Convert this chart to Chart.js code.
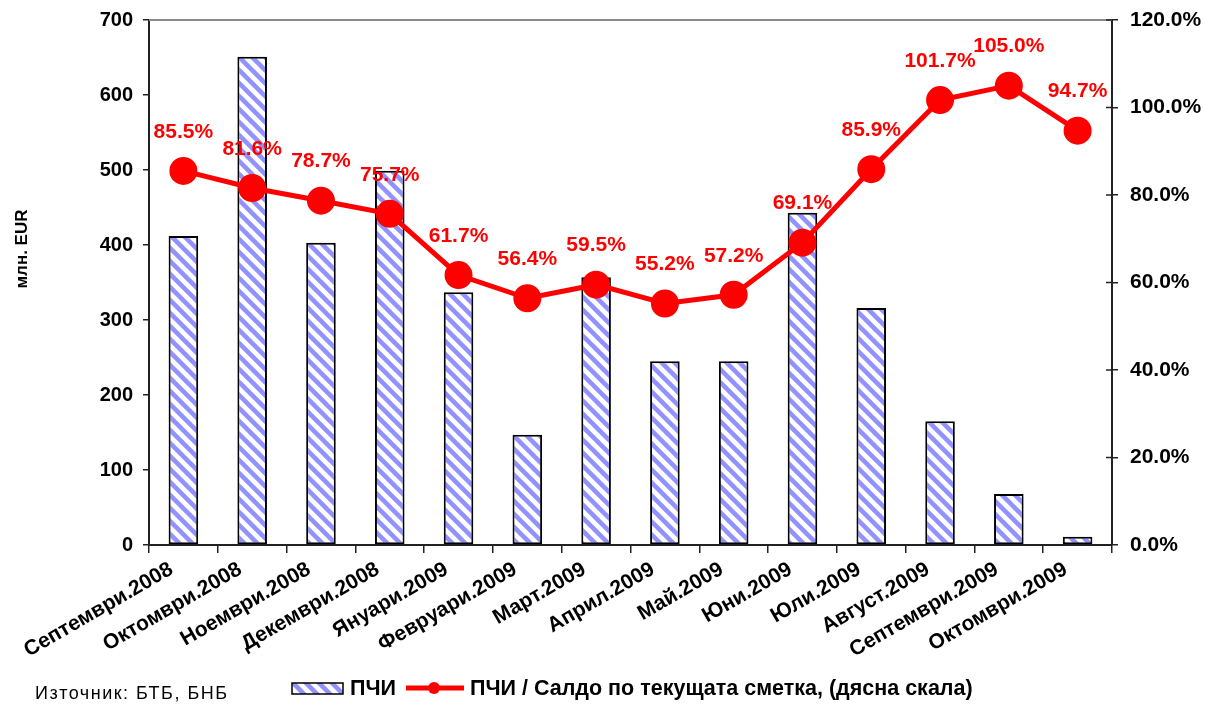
<!DOCTYPE html>
<html>
<head>
<meta charset="utf-8">
<script src="https://cdn.jsdelivr.net/npm/chart.js@4"></script>
<style>
  html, body { margin: 0; padding: 0; background: #fff; }
  #wrap { position: relative; width: 1205px; height: 704px; }
</style>
</head>
<body>
<div id="wrap"><canvas id="fdiChart"></canvas></div>
<script>
// Data
const months = ['Септември.2008', 'Октомври.2008', 'Ноември.2008', 'Декември.2008', 'Януари.2009',
    'Февруари.2009', 'Март.2009', 'Април.2009', 'Май.2009', 'Юни.2009', 'Юли.2009',
    'Август.2009', 'Септември.2009', 'Октомври.2009'];
const fdiValues = [412, 651, 403, 499, 337, 147, 357, 245, 245, 443, 316, 165, 68, 11];
const fdiToCurrentAccount = [85.5, 81.6, 78.7, 75.7, 61.7, 56.4, 59.5, 55.2, 57.2, 69.1, 85.9, 101.7, 105.0, 94.7];
const leftTicks = [0, 100, 200, 300, 400, 500, 600, 700];
const rightTicks = [0, 20, 40, 60, 80, 100, 120];

const barLabel = 'ПЧИ';
const lineLabel = 'ПЧИ / Салдо по текущата сметка, (дясна скала)';
const sourceText = 'Източник: БТБ, БНБ';
const leftTitle = 'млн. EUR';

const FONT = '"Liberation Sans", Arial, sans-serif';

// Hatched fill for bars
function makeHatch() {
    const size = 13;
    const c = document.createElement('canvas');
    c.width = size; c.height = size;
    const g = c.getContext('2d');
    g.fillStyle = '#ffffff';
    g.fillRect(0, 0, size, size);
    g.strokeStyle = '#9191ff';
    g.lineWidth = 4.5;
    g.beginPath();
    g.moveTo(-3, -3); g.lineTo(size + 3, size + 3);
    g.moveTo(-3, size - 3); g.lineTo(3, size + 3);
    g.moveTo(size - 3, -3); g.lineTo(size + 3, 3);
    g.stroke();
    return g.createPattern(c, 'repeat');
}
const hatch = makeHatch();

// Labels above line points, top border, right ticks, axis title, legend, source
const extrasPlugin = {
    id: 'extras',
    afterDatasetsDraw(chart) {
        const ctx = chart.ctx;
        const meta = chart.getDatasetMeta(1);
        ctx.save();
        ctx.fillStyle = '#ff0000';
        ctx.font = 'bold 21px ' + FONT;
        ctx.textAlign = 'center';
        ctx.textBaseline = 'middle';
        meta.data.forEach((pt, i) => {
            ctx.fillText(fdiToCurrentAccount[i].toFixed(1) + '%', pt.x, pt.y - 39);
        });
        ctx.restore();
    },
    afterDraw(chart) {
        const ctx = chart.ctx;
        const area = chart.chartArea;
        ctx.save();
        // top border
        ctx.strokeStyle = '#8a8a8a';
        ctx.lineWidth = 2;
        ctx.beginPath();
        ctx.moveTo(area.left, area.top);
        ctx.lineTo(area.right, area.top);
        ctx.stroke();

        // inner ticks on right axis
        const y1 = chart.scales.y1;
        ctx.strokeStyle = '#222';
        ctx.lineWidth = 1.5;
        rightTicks.forEach(v => {
            const y = y1.getPixelForValue(v);
            ctx.beginPath();
            ctx.moveTo(area.right - 6, y);
            ctx.lineTo(area.right, y);
            ctx.stroke();
        });

        // left axis title
        ctx.save();
        ctx.translate(22, 249);
        ctx.rotate(-Math.PI / 2);
        ctx.fillStyle = '#000';
        ctx.font = 'bold 17px ' + FONT;
        ctx.textAlign = 'center';
        ctx.textBaseline = 'middle';
        ctx.fillText(leftTitle, 0, 0);
        ctx.restore();

        // legend
        const ly = 688;
        ctx.fillStyle = hatch;
        ctx.fillRect(292, ly - 5, 51, 11);
        ctx.strokeStyle = '#000';
        ctx.lineWidth = 1.5;
        ctx.strokeRect(292, ly - 5, 51, 11);

        ctx.fillStyle = '#000';
        ctx.font = 'bold 21.5px ' + FONT;
        ctx.textBaseline = 'middle';
        ctx.textAlign = 'left';
        ctx.fillText(barLabel, 350, ly + 1);

        ctx.strokeStyle = '#ff0000';
        ctx.lineWidth = 5;
        ctx.beginPath();
        ctx.moveTo(406, ly);
        ctx.lineTo(464, ly);
        ctx.stroke();
        ctx.fillStyle = '#ff0000';
        ctx.beginPath();
        ctx.arc(434, ly, 6, 0, Math.PI * 2);
        ctx.fill();

        ctx.fillStyle = '#000';
        ctx.fillText(lineLabel, 470, ly + 1);

        // source note
        ctx.font = '18px ' + FONT;
        if ('letterSpacing' in ctx) ctx.letterSpacing = '1.5px';
        ctx.fillText(sourceText, 35, ly + 6);
        ctx.restore();
    }
};

const ctx = document.getElementById('fdiChart').getContext('2d');
new Chart(ctx, {
    type: 'bar',
    data: {
        labels: months,
        datasets: [{
            type: 'bar',
            label: barLabel,
            data: fdiValues,
            yAxisID: 'y',
            backgroundColor: hatch,
            borderColor: '#000',
            borderWidth: 2,
            borderSkipped: false,
            categoryPercentage: 1,
            barPercentage: 0.43,
            order: 1
        }, {
            type: 'line',
            label: lineLabel,
            data: fdiToCurrentAccount,
            yAxisID: 'y1',
            borderColor: '#ff0000',
            backgroundColor: '#ff0000',
            borderWidth: 5,
            pointRadius: 11.5,
            pointBackgroundColor: '#ff0000',
            pointBorderColor: '#ff0000',
            tension: 0,
            fill: false,
            order: 0
        }]
    },
    options: {
        responsive: true,
        maintainAspectRatio: false,
        animation: false,
        layout: { padding: { top: 20, left: 0, right: 0, bottom: 0 } },
        plugins: {
            legend: { display: false },
            tooltip: { enabled: false }
        },
        scales: {
            x: {
                offset: true,
                grid: { offset: true, drawOnChartArea: false, drawTicks: true, tickLength: 8, color: '#222', lineWidth: 1.5 },
                border: { display: true, color: '#222', width: 2 },
                ticks: {
                    autoSkip: false,
                    maxRotation: 30,
                    minRotation: 30,
                    padding: 4,
                    labelOffset: -12,
                    color: '#000',
                    font: { family: FONT, size: 21, weight: 'bold' }
                },
                afterFit: (scale) => { scale.height = 159; }
            },
            y: {
                position: 'left',
                min: 0,
                max: 700,
                afterBuildTicks: (scale) => { scale.ticks = leftTicks.map(v => ({ value: v })); },
                grid: { drawOnChartArea: false, drawTicks: true, tickLength: 6, color: '#222', lineWidth: 1.5 },
                border: { display: true, color: '#222', width: 2 },
                ticks: {
                    padding: 10,
                    color: '#000',
                    font: { family: FONT, size: 20, weight: 'bold' }
                },
                afterFit: (scale) => { scale.width = 149; scale.paddingTop = 0; scale.paddingBottom = 0; }
            },
            y1: {
                position: 'right',
                min: 0,
                max: 120,
                afterBuildTicks: (scale) => { scale.ticks = rightTicks.map(v => ({ value: v })); },
                grid: { drawOnChartArea: false, drawTicks: true, tickLength: 6, color: '#222', lineWidth: 1.5 },
                border: { display: true, color: '#222', width: 2 },
                ticks: {
                    padding: 12,
                    color: '#000',
                    font: { family: FONT, size: 21, weight: 'bold' },
                    callback: (v) => v.toFixed(1) + '%'
                },
                afterFit: (scale) => { scale.width = 93; scale.paddingTop = 0; scale.paddingBottom = 0; }
            }
        }
    },
    plugins: [extrasPlugin]
});
</script>
</body>
</html>
